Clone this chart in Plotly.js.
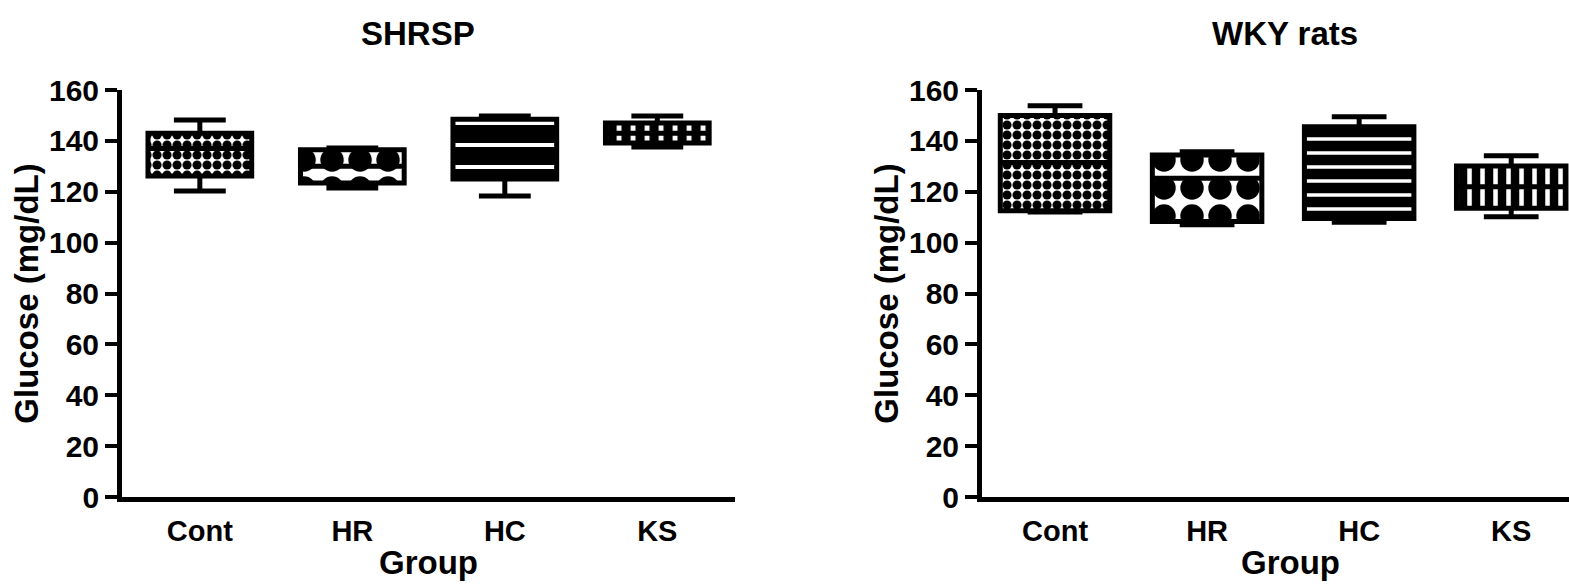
<!DOCTYPE html>
<html>
<head>
<meta charset="utf-8">
<script src="https://cdn.plot.ly/plotly-3.0.1.min.js"></script>
<style>html,body{margin:0;padding:0;background:#fff;}#chart{width:1569px;height:584px;}</style>
</head>
<body>
<div id="chart"></div>
<script>
// Categories
const groups = ["Cont", "HR", "HC", "KS"];

// SHRSP box statistics (mg/dL)
const shrspLower  = [120.3, 121.5, 118.3, 137.6];
const shrspQ1     = [126.2, 123.4, 125.0, 139.2];
const shrspMedian = [137.0, 130.0, 135.5, 143.0];
const shrspQ3     = [143.0, 136.5, 148.5, 147.0];
const shrspUpper  = [148.2, 137.2, 149.8, 149.8];

// WKY rats box statistics (mg/dL)
const wkyLower  = [112.0, 107.0, 108.0, 110.2];
const wkyQ1     = [112.5, 108.3, 109.5, 113.5];
const wkyMedian = [131.5, 125.3, 121.0, 122.0];
const wkyQ3     = [150.0, 134.4, 145.6, 130.1];
const wkyUpper  = [153.8, 135.7, 149.5, 134.2];

// Fill patterns per group (styles)
const patShape  = [".", ".", "-", "|"];
const patFg     = ["black", "black", "white", "white"];
const patBg     = ["white", "white", "black", "black"];
const patSizeL  = [10, 28, 22, 14];
const patSizeR  = [10, 28, 14, 13];
const patSolidL = [0.65, 0.55, 0.18, 0.35];
const patSolidR = [0.65, 0.55, 0.25, 0.35];

const FONT = "Liberation Sans, Arial, sans-serif";

function heights(q1, q3) { return q3.map((v, i) => v - q1[i]); }

function bgTrace(q1, q3, xa, ya, w) {
  return {
    type: "bar", x: groups, y: heights(q1, q3), base: q1,
    xaxis: xa, yaxis: ya, width: w, hoverinfo: "skip", showlegend: false,
    marker: {color: patBg, line: {width: 0}}
  };
}
function fgTrace(q1, q3, xa, ya, w, sizes, solids) {
  return {
    type: "bar", x: groups, y: heights(q1, q3), base: q1,
    xaxis: xa, yaxis: ya, width: w, hoverinfo: "skip", showlegend: false,
    marker: {
      color: patFg, line: {width: 0},
      pattern: {shape: patShape, size: sizes, solidity: solids, bgcolor: "rgba(0,0,0,0)", fillmode: "replace"}
    }
  };
}

function boxTrace(lo, q1, med, q3, up, xa, ya, w) {
  return {
    type: "box", x: groups, q1: q1, median: med, q3: q3, lowerfence: lo, upperfence: up,
    xaxis: xa, yaxis: ya, width: w, whiskerwidth: 0.5, boxpoints: false,
    fillcolor: "rgba(0,0,0,0)", line: {color: "black", width: 5},
    hoverinfo: "skip", showlegend: false
  };
}

const data = [
  bgTrace(shrspQ1, shrspQ3, "x", "y", 0.68),
  fgTrace(shrspQ1, shrspQ3, "x", "y", 0.68, patSizeL, patSolidL),
  boxTrace(shrspLower, shrspQ1, shrspMedian, shrspQ3, shrspUpper, "x", "y", 0.68),
  bgTrace(wkyQ1, wkyQ3, "x2", "y2", 0.72),
  fgTrace(wkyQ1, wkyQ3, "x2", "y2", 0.72, patSizeR, patSolidR),
  boxTrace(wkyLower, wkyQ1, wkyMedian, wkyQ3, wkyUpper, "x2", "y2", 0.72)
];

const tickFont = {family: FONT, size: 30, color: "black", weight: "bold"};
const catFont = {family: FONT, size: 29, color: "black", weight: "bold"};
const titleFont = {family: FONT, size: 33, color: "black", weight: "bold"};

function xAxis(domain, range, anchor) {
  return {
    domain: domain, range: range, anchor: anchor, type: "category",
    showline: true, linewidth: 5, linecolor: "black", ticks: "", showgrid: false, zeroline: false,
    tickfont: catFont, ticklabelstandoff: 4,
    title: {text: ""}
  };
}
function yAxis(anchor) {
  return {
    anchor: anchor, range: [0, 160], dtick: 20, tick0: 0,
    showline: true, linewidth: 5, linecolor: "black", showgrid: false, zeroline: false,
    ticks: "outside", ticklen: 12, tickwidth: 4, tickcolor: "black",
    tickfont: tickFont, ticklabelstandoff: 0,
    title: {text: "Glucose (mg/dL)", font: titleFont, standoff: 2}
  };
}

const layout = {
  width: 1569, height: 584,
  margin: {l: 0, r: 0, t: 90, b: 87},
  paper_bgcolor: "white", plot_bgcolor: "white",
  showlegend: false, barmode: "overlay",
  xaxis: xAxis([0.0778, 0.4685], [-0.51, 3.51], "y"),
  yaxis: yAxis("x"),
  xaxis2: xAxis([0.6259, 1.0], [-0.48, 3.38], "y2"),
  yaxis2: yAxis("x2"),
  annotations: [
    {text: "SHRSP", xref: "paper", yref: "paper", x: 0.2664, y: 1.14, xanchor: "center", yanchor: "middle", showarrow: false, font: titleFont},
    {text: "WKY rats", xref: "paper", yref: "paper", x: 0.819, y: 1.14, xanchor: "center", yanchor: "middle", showarrow: false, font: titleFont},
    {text: "Group", xref: "paper", yref: "paper", x: 0.2728, y: -0.162, xanchor: "center", yanchor: "middle", showarrow: false, font: titleFont},
    {text: "Group", xref: "paper", yref: "paper", x: 0.8222, y: -0.162, xanchor: "center", yanchor: "middle", showarrow: false, font: titleFont}
  ]
};

Plotly.newPlot("chart", data, layout, {staticPlot: true, displayModeBar: false});
</script>
</body>
</html>
